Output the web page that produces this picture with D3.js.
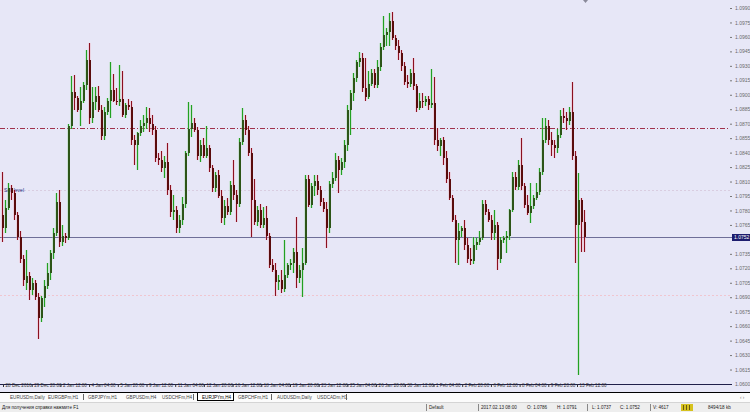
<!DOCTYPE html>
<html>
<head>
<meta charset="utf-8">
<script src="https://cdn.jsdelivr.net/npm/d3@7"></script>
<style>
body { margin: 0; background: #fff; }
svg text { font-family: "Liberation Sans", Arial, sans-serif; }
</style>
</head>
<body>
<script>
// EURJPYm,H4 style window, bars
var opens = [
	1.0775,1.0762,1.0783,1.0803,1.0798,1.0775,1.0752,1.0730,1.0705,1.0712,
	1.0697,1.0705,1.0690,1.0668,1.0689,1.0702,1.0715,1.0736,1.0757,1.0789,
	1.0747,1.0753,1.0751,1.0868,1.0903,1.0897,1.0884,1.0894,1.0910,1.0936,
	1.0876,1.0892,1.0899,1.0884,1.0857,1.0882,1.0894,1.0905,1.0894,1.0892,
	1.0896,1.0879,1.0889,1.0887,1.0853,1.0848,1.0860,1.0868,1.0871,1.0876,
	1.0870,1.0863,1.0834,1.0832,1.0824,1.0830,1.0801,1.0778,1.0780,1.0762,
	1.0770,1.0787,1.0840,1.0865,1.0871,1.0863,1.0837,1.0848,1.0837,1.0845,
	1.0824,1.0803,1.0817,1.0795,1.0772,1.0785,1.0778,1.0806,1.0796,1.0787,
	1.0851,1.0874,1.0863,1.0840,1.0791,1.0768,1.0780,1.0765,1.0772,1.0754,
	1.0723,1.0718,1.0706,1.0708,1.0699,1.0713,1.0723,1.0726,1.0737,1.0710,
	1.0718,1.0726,1.0813,1.0786,1.0805,1.0811,1.0801,1.0789,1.0781,1.0762,
	1.0807,1.0814,1.0832,1.0822,1.0830,1.0848,1.0884,1.0902,1.0917,1.0934,
	1.0938,1.0907,1.0898,1.0911,1.0923,1.0910,1.0929,1.0950,1.0962,1.0965,
	1.0977,1.0959,1.0951,1.0943,1.0930,1.0913,1.0911,1.0923,1.0909,1.0886,
	1.0894,1.0892,1.0896,1.0889,1.0891,1.0853,1.0847,1.0853,1.0834,1.0813,
	1.0793,1.0770,1.0749,1.0759,1.0762,1.0744,1.0730,1.0728,1.0744,1.0747,
	1.0751,1.0787,1.0778,1.0770,1.0757,1.0765,1.0730,1.0749,1.0751,1.0753,
	1.0780,1.0815,1.0804,1.0827,1.0805,1.0786,1.0777,1.0785,1.0793,1.0799,
	1.0820,1.0853,1.0868,1.0853,1.0848,1.0845,1.0858,1.0878,1.0876,1.0873,
	1.0882,1.0837,1.0765,1.0791,1.0768
];
var highs = [
	1.0820,1.0791,1.0809,1.0806,1.0801,1.0778,1.0759,1.0734,1.0739,1.0716,
	1.0710,1.0708,1.0694,1.0691,1.0708,1.0726,1.0739,1.0762,1.0798,1.0801,
	1.0765,1.0757,1.0870,1.0919,1.0921,1.0899,1.0908,1.0913,1.0946,1.0954,
	1.0908,1.0908,1.0909,1.0889,1.0887,1.0897,1.0934,1.0922,1.0907,1.0931,
	1.0925,1.0891,1.0896,1.0894,1.0858,1.0861,1.0874,1.0879,1.0887,1.0886,
	1.0879,1.0868,1.0840,1.0842,1.0837,1.0850,1.0806,1.0796,1.0785,1.0775,
	1.0794,1.0842,1.0892,1.0889,1.0876,1.0867,1.0853,1.0855,1.0868,1.0848,
	1.0827,1.0820,1.0822,1.0801,1.0791,1.0793,1.0811,1.0832,1.0801,1.0855,
	1.0886,1.0879,1.0868,1.0845,1.0813,1.0785,1.0787,1.0784,1.0785,1.0757,
	1.0730,1.0726,1.0713,1.0718,1.0749,1.0726,1.0730,1.0741,1.0773,1.0723,
	1.0741,1.0817,1.0817,1.0809,1.0817,1.0817,1.0805,1.0793,1.0789,1.0811,
	1.0820,1.0840,1.0837,1.0834,1.0853,1.0889,1.0905,1.0923,1.0936,1.0944,
	1.0943,1.0938,1.0925,1.0927,1.0927,1.0936,1.0954,1.0982,1.0969,1.0985,
	1.0986,1.0962,1.0957,1.0946,1.0934,1.0920,1.0927,1.0938,1.0911,1.0902,
	1.0902,1.0899,1.0899,1.0927,1.0918,1.0866,1.0855,1.0856,1.0842,1.0820,
	1.0796,1.0775,1.0767,1.0764,1.0770,1.0751,1.0741,1.0752,1.0751,1.0759,
	1.0791,1.0791,1.0782,1.0775,1.0780,1.0768,1.0752,1.0753,1.0759,1.0782,
	1.0820,1.0820,1.0832,1.0855,1.0808,1.0796,1.0809,1.0796,1.0809,1.0824,
	1.0876,1.0876,1.0874,1.0861,1.0853,1.0865,1.0884,1.0886,1.0882,1.0887,
	1.0913,1.0842,1.0819,1.0793,1.0780
];
var lows = [
	1.0747,1.0757,1.0780,1.0791,1.0770,1.0749,1.0726,1.0702,1.0697,1.0687,
	1.0692,1.0687,1.0647,1.0664,1.0680,1.0699,1.0708,1.0730,1.0753,1.0742,
	1.0743,1.0746,1.0749,1.0865,1.0884,1.0882,1.0868,1.0891,1.0905,1.0870,
	1.0871,1.0884,1.0882,1.0853,1.0853,1.0879,1.0876,1.0892,1.0889,1.0888,
	1.0877,1.0876,1.0884,1.0848,1.0827,1.0822,1.0857,1.0861,1.0865,1.0861,
	1.0858,1.0830,1.0827,1.0820,1.0814,1.0796,1.0773,1.0770,1.0757,1.0757,
	1.0765,1.0783,1.0837,1.0856,1.0861,1.0832,1.0830,1.0834,1.0834,1.0820,
	1.0799,1.0799,1.0793,1.0767,1.0765,1.0775,1.0775,1.0791,1.0768,1.0784,
	1.0848,1.0858,1.0837,1.0752,1.0765,1.0764,1.0762,1.0762,1.0749,1.0720,
	1.0716,1.0691,1.0697,1.0694,1.0695,1.0710,1.0718,1.0715,1.0700,1.0705,
	1.0690,1.0723,1.0784,1.0783,1.0795,1.0796,1.0785,1.0778,1.0741,1.0757,
	1.0803,1.0811,1.0798,1.0817,1.0824,1.0842,1.0858,1.0894,1.0913,1.0929,
	1.0903,1.0894,1.0896,1.0909,1.0907,1.0907,1.0925,1.0946,1.0951,1.0951,
	1.0957,1.0946,1.0936,1.0925,1.0910,1.0907,1.0908,1.0905,1.0882,1.0884,
	1.0886,1.0888,1.0884,1.0886,1.0848,1.0842,1.0837,1.0827,1.0808,1.0791,
	1.0768,1.0726,1.0723,1.0752,1.0739,1.0725,1.0723,1.0724,1.0739,1.0744,
	1.0749,1.0775,1.0768,1.0749,1.0749,1.0718,1.0726,1.0746,1.0736,1.0749,
	1.0778,1.0801,1.0801,1.0801,1.0783,1.0775,1.0767,1.0782,1.0791,1.0796,
	1.0817,1.0850,1.0848,1.0837,1.0834,1.0840,1.0855,1.0871,1.0863,1.0869,
	1.0832,1.0726,1.0609,1.0737,1.0737
];
var closes = [
	1.0762,1.0783,1.0803,1.0798,1.0775,1.0752,1.0730,1.0708,1.0712,1.0697,
	1.0705,1.0690,1.0668,1.0689,1.0702,1.0715,1.0736,1.0757,1.0789,1.0747,
	1.0753,1.0751,1.0868,1.0903,1.0897,1.0884,1.0894,1.0910,1.0936,1.0876,
	1.0892,1.0899,1.0884,1.0857,1.0882,1.0894,1.0905,1.0894,1.0892,1.0896,
	1.0879,1.0889,1.0887,1.0853,1.0848,1.0860,1.0868,1.0871,1.0876,1.0870,
	1.0863,1.0834,1.0832,1.0824,1.0830,1.0801,1.0778,1.0780,1.0762,1.0770,
	1.0787,1.0840,1.0865,1.0871,1.0863,1.0837,1.0848,1.0837,1.0845,1.0824,
	1.0803,1.0817,1.0795,1.0772,1.0785,1.0778,1.0806,1.0796,1.0787,1.0851,
	1.0874,1.0863,1.0840,1.0791,1.0768,1.0780,1.0765,1.0772,1.0754,1.0723,
	1.0718,1.0706,1.0708,1.0699,1.0713,1.0723,1.0726,1.0737,1.0710,1.0718,
	1.0726,1.0813,1.0786,1.0805,1.0811,1.0801,1.0789,1.0781,1.0762,1.0807,
	1.0814,1.0832,1.0822,1.0830,1.0848,1.0884,1.0902,1.0917,1.0934,1.0938,
	1.0907,1.0898,1.0911,1.0923,1.0910,1.0929,1.0950,1.0962,1.0965,1.0977,
	1.0959,1.0951,1.0943,1.0930,1.0913,1.0911,1.0923,1.0909,1.0886,1.0894,
	1.0892,1.0896,1.0889,1.0891,1.0853,1.0847,1.0853,1.0834,1.0813,1.0793,
	1.0770,1.0749,1.0759,1.0762,1.0744,1.0730,1.0728,1.0744,1.0747,1.0751,
	1.0787,1.0778,1.0770,1.0757,1.0765,1.0730,1.0749,1.0751,1.0753,1.0780,
	1.0815,1.0804,1.0827,1.0805,1.0786,1.0777,1.0785,1.0793,1.0799,1.0820,
	1.0853,1.0868,1.0853,1.0848,1.0845,1.0858,1.0878,1.0876,1.0873,1.0882,
	1.0837,1.0765,1.0791,1.0768,1.0752
];

var priceTicks = [1.0990,1.0975,1.0960,1.0945,1.0930,1.0915,1.0900,1.0885,1.0870,1.0855,
	1.0840,1.0825,1.0810,1.0795,1.0780,1.0765,1.0750,1.0735,1.0720,1.0705,
	1.0690,1.0675,1.0660,1.0645,1.0630,1.0615,1.0600];
var dateLabels = ["28 Dec 2016","29 Dec 20:00","2 Jan 12:00","4 Jan 04:00","5 Jan 20:00",
	"9 Jan 12:00","11 Jan 04:00","12 Jan 20:00","16 Jan 12:00","18 Jan 04:00","19 Jan 20:00",
	"23 Jan 12:00","25 Jan 04:00","26 Jan 20:00","30 Jan 12:00","1 Feb 04:00","2 Feb 20:00",
	"6 Feb 12:00","8 Feb 04:00","9 Feb 20:00","13 Feb 12:00"];
var tabNames = ["EURUSDm,Daily","EURGBPm,H1","GBPJPYm,H1","GBPUSDm,H4","USDCHFm,H4",
	"EURJPYm,H4","GBPCHFm,H1","AUDUSDm,Daily","USDCADm,H1"];
var tabStarts = [10,48,88,126,162,202,238,277,317];
var activeTab = 5;
var levelDashDot = 1.0866;
var levelsDotted = [1.0801, 1.0692];
var levelLabel = "Sell level";
var bidPrice = closes[closes.length - 1];
var statusItems = [
	{x: 2, t: "Для получения справки нажмите F1"},
	{x: 429, t: "Default"},
	{x: 481, t: "2017.02.13 08:00"},
	{x: 527, t: "O: 1.0786"},
	{x: 557, t: "H: 1.0791"},
	{x: 592, t: "L: 1.0737"},
	{x: 620, t: "C: 1.0752"},
	{x: 653, t: "V: 4617"},
	{x: 708, t: "8494/18 kb"}
];
var statusSeps = [426, 478, 587, 650];

var W = 750, H = 412;
var plotRight = 730, axisY = 384;
var bg = "#e7e7f7";

var x = d3.scaleLinear().domain([0, closes.length - 1]).range([2, 584]);
var y = d3.scaleLinear().domain([1.0600, 1.0990]).range([axisY, 8]);
var dx = d3.scaleLinear().domain([0, dateLabels.length - 1]).range([3, 577]);

var svg = d3.select("body").append("svg")
	.attr("width", W)
	.attr("height", H);

svg.append("rect").attr("width", W).attr("height", 393).attr("fill", bg);

// horizontal objects
levelsDotted.forEach(function(p, k) {
	svg.append("line")
		.attr("x1", 0).attr("x2", plotRight)
		.attr("y1", Math.round(y(p)) + 0.5).attr("y2", Math.round(y(p)) + 0.5)
		.attr("stroke", k == 0 ? "#d9cde0" : "#f0c6d0")
		.attr("stroke-dasharray", "2,2");
});
svg.append("text")
	.attr("x", 4).attr("y", Math.round(y(levelsDotted[0])) + 2)
	.attr("font-size", 5).attr("fill", "#1c2a7a")
	.text(levelLabel);

svg.append("line")
	.attr("x1", 0).attr("x2", plotRight)
	.attr("y1", Math.round(y(levelDashDot)) + 0.5).attr("y2", Math.round(y(levelDashDot)) + 0.5)
	.attr("stroke", "#a0304a")
	.attr("stroke-dasharray", "5,2,1,2");

svg.append("line")
	.attr("x1", 0).attr("x2", plotRight + 2)
	.attr("y1", Math.round(y(bidPrice)) + 0.5).attr("y2", Math.round(y(bidPrice)) + 0.5)
	.attr("stroke", "#6f6f98");

// candles
var bars = d3.range(closes.length).map(function(i) {
	return {i: i, o: opens[i], h: highs[i], l: lows[i], c: closes[i], up: closes[i] >= opens[i]};
});

var candle = svg.selectAll(".candle")
	.data(bars)
	.enter().append("g")
	.attr("class", "candle");

candle.append("rect")
	.attr("x", function(d) { return Math.round(x(d.i)) - 1; })
	.attr("y", function(d) { return Math.round(y(d.h)); })
	.attr("width", 3)
	.attr("height", function(d) { return Math.max(1, Math.round(y(d.l)) - Math.round(y(d.h))); })
	.attr("fill", function(d) { return d.up ? "#9ad89a" : "#f0a8b4"; })
	.attr("opacity", 0.35);

candle.append("rect")
	.attr("x", function(d) { return Math.round(x(d.i)); })
	.attr("y", function(d) { return Math.round(y(d.h)); })
	.attr("width", 1)
	.attr("height", function(d) { return Math.max(1, Math.round(y(d.l)) - Math.round(y(d.h))); })
	.attr("fill", function(d) { return d.up ? "#22a022" : "#8a1020"; });

candle.append("rect")
	.attr("x", function(d) { return Math.round(x(d.i)); })
	.attr("y", function(d) { return Math.round(y(Math.max(d.o, d.c))); })
	.attr("width", 2)
	.attr("height", function(d) { return Math.max(1, Math.round(y(Math.min(d.o, d.c))) - Math.round(y(Math.max(d.o, d.c)))); })
	.attr("fill", function(d) { return d.up ? "#2d5518" : "#5a0c0c"; });

// chart shift marker
svg.append("path").attr("d", "M583,0L588,0L585.5,3Z").attr("fill", "#8a8a9a");

// price scale, the tick under the bid box is covered by it
var shownTicks = priceTicks.filter(function(p) { return Math.abs(y(p) - y(bidPrice)) > 5; });
var ay = svg.append("g")
	.attr("transform", "translate(" + plotRight + ",0)")
	.call(d3.axisRight(y).tickValues(shownTicks).tickSize(2).tickPadding(3).tickFormat(d3.format(".4f")));
ay.select(".domain").remove();
ay.selectAll("line").attr("stroke", "#777");
ay.selectAll("text").attr("font-size", 5).attr("fill", "#6a6a6a");

var by = Math.round(y(bidPrice));
svg.append("rect").attr("x", 732).attr("y", by - 3).attr("width", 18).attr("height", 7).attr("fill", "#1c1c6e");
svg.append("text").attr("x", 734).attr("y", by + 2)
	.attr("font-size", 5).attr("fill", "#fff").text(d3.format(".4f")(bidPrice));

// time scale
svg.append("line")
	.attr("x1", 0).attr("x2", plotRight + 2)
	.attr("y1", axisY + 0.5).attr("y2", axisY + 0.5)
	.attr("stroke", "#20204a");

var ax = svg.append("g")
	.attr("transform", "translate(0," + axisY + ")")
	.call(d3.axisBottom(dx).tickValues(d3.range(dateLabels.length)).tickSize(3).tickPadding(1)
		.tickFormat(function(k) { return dateLabels[k]; }));
ax.select(".domain").remove();
ax.selectAll("line").attr("stroke", "#333");
ax.selectAll("text")
	.attr("font-size", 4.6).attr("fill", "#333")
	.attr("text-anchor", "start").attr("dx", 2).attr("dy", "0.3em").attr("y", 2);

// symbol tabs
svg.append("rect").attr("y", 393).attr("width", W).attr("height", 9).attr("fill", "#fbfbfb");
svg.append("line").attr("x1", 0).attr("x2", W).attr("y1", 392.5).attr("y2", 392.5).attr("stroke", "#000");
svg.append("rect").attr("x", 197.5).attr("y", 392.5).attr("width", 36).attr("height", 8).attr("fill", "#fff").attr("stroke", "#000");

svg.selectAll(".tab")
	.data(tabNames)
	.enter().append("text")
	.attr("class", "tab")
	.attr("x", function(d, i) { return tabStarts[i]; })
	.attr("y", 399)
	.attr("font-size", 4.6)
	.attr("fill", function(d, i) { return i == activeTab ? "#000" : "#444"; })
	.text(function(d) { return d; });

[83, 193, 271, 346].forEach(function(sx) {
	svg.append("line").attr("x1", sx + 0.5).attr("x2", sx + 0.5).attr("y1", 394).attr("y2", 400).attr("stroke", "#666");
});
svg.append("text").attr("x", 740).attr("y", 399).attr("font-size", 4.6).attr("fill", "#777").text("‹  ›");

// status bar
svg.append("rect").attr("y", 402).attr("width", W).attr("height", 10).attr("fill", "#eeeeee");
svg.append("line").attr("x1", 0).attr("x2", W).attr("y1", 402.5).attr("y2", 402.5).attr("stroke", "#d4d4d4");
svg.selectAll(".status")
	.data(statusItems)
	.enter().append("text")
	.attr("class", "status")
	.attr("x", function(d) { return d.x; })
	.attr("y", 409)
	.attr("font-size", 4.6)
	.attr("fill", "#222")
	.text(function(d) { return d.t; });
statusSeps.forEach(function(sx) {
	svg.append("line").attr("x1", sx + 0.5).attr("x2", sx + 0.5).attr("y1", 404).attr("y2", 411).attr("stroke", "#888");
});
svg.append("rect").attr("x", 681).attr("y", 404).attr("width", 12).attr("height", 7).attr("fill", "#d6c21e");
[683, 686, 689].forEach(function(sx) {
	svg.append("rect").attr("x", sx).attr("y", 405).attr("width", 1).attr("height", 5).attr("fill", "#6a5a10");
});
</script>
</body>
</html>
